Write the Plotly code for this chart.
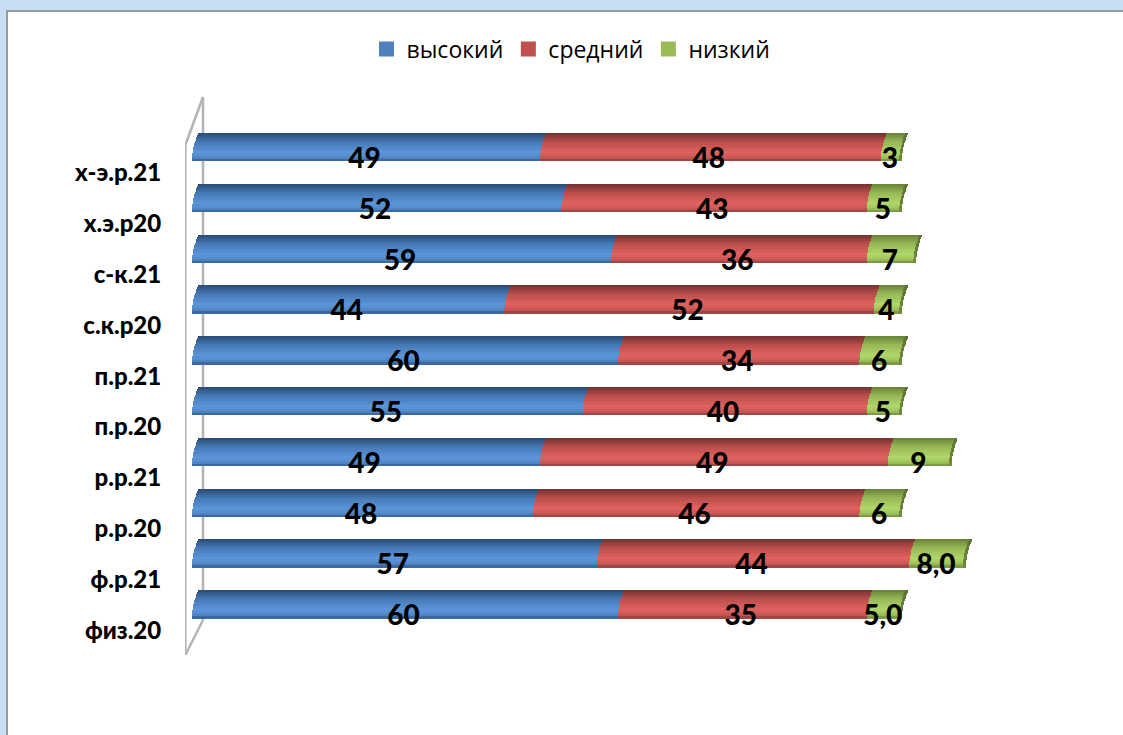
import plotly.graph_objects as go

categories = ["х-э.р.21", "х.э.р20", "с-к.21", "с.к.р20", "п.р.21", "п.р.20", "р.р.21", "р.р.20", "ф.р.21", "физ.20"]
high = [49, 52, 59, 44, 60, 55, 49, 48, 57, 60]
mid = [48, 43, 36, 52, 34, 40, 49, 46, 44, 35]
low = [3, 5, 7, 4, 6, 5, 9, 6, 8, 5]
low_labels = ["3", "5", "7", "4", "6", "5", "9", "6", "8,0", "5,0"]
series_names = ["высокий", "средний", "низкий"]

W, H = 1123, 735
PL, PR, PT, PB = 185, 975, 90, 660
PX_X = 7.1
PX_Y = 50.8
Y0 = 173
xr = [(PL - 192) / PX_X, (PR - 192) / PX_X]
yr = [(PB - Y0) / PX_Y, (PT - Y0) / PX_Y]

N_BANDS = 14
BAR_H = 28 / PX_Y
BAR_CENTER = -26 / PX_Y
LABEL_DY = -12 / PX_Y
LABEL_DX = -1.5 / PX_X
DEPTH = 0.8


def lerp(stops, t):
    for (a, ca), (b, cb) in zip(stops, stops[1:]):
        if t <= b:
            f = (t - a) / (b - a)
            return "rgb(%d,%d,%d)" % tuple(round(p + (q - p) * f) for p, q in zip(ca, cb))
    return "rgb(%d,%d,%d)" % stops[-1][1]


grad_blue = [(0, (44, 78, 122)), (0.3, (69, 120, 181)), (0.7, (91, 149, 217)), (0.9, (84, 138, 202)), (1, (62, 105, 160))]
grad_red = [(0, (122, 52, 50)), (0.3, (186, 78, 75)), (0.7, (224, 98, 95)), (0.9, (205, 88, 85)), (1, (160, 70, 68))]
grad_green = [(0, (108, 135, 58)), (0.3, (150, 183, 86)), (0.7, (176, 214, 106)), (0.9, (160, 196, 94)), (1, (125, 155, 70))]
grad_cap = [(0, (90, 115, 48)), (1, (112, 140, 60))]
grads = [grad_blue, grad_red, grad_green]
legend_colors = ["#4F81BD", "#C0504D", "#9BBB59"]

rows = list(range(len(categories)))
cum0 = [0] * len(rows)
cum1 = high
cum2 = [a + b for a, b in zip(high, mid)]
total = [a + b for a, b in zip(cum2, low)]

fig = go.Figure()


def slant(t):
    return DEPTH * (1 - t) ** 1.8


for values, starts, grad in zip([high, mid, low], [cum0, cum1, cum2], grads):
    for k in range(N_BANDS):
        t = k / (N_BANDS - 1)
        shift = slant(t)
        fig.add_trace(go.Bar(
            orientation="h", y=rows, x=values,
            base=[s + shift for s in starts],
            width=BAR_H / N_BANDS * 1.15,
            offset=BAR_CENTER - BAR_H / 2 + k * BAR_H / N_BANDS,
            marker=dict(color=lerp(grad, t), line=dict(width=0)),
            showlegend=False, hoverinfo="skip",
        ))

for k in range(N_BANDS):
    t = k / (N_BANDS - 1)
    shift = slant(t)
    fig.add_trace(go.Bar(
        orientation="h", y=rows, x=[0.4] * len(rows),
        base=[s + shift - 0.4 for s in total],
        width=BAR_H / N_BANDS * 1.15,
        offset=BAR_CENTER - BAR_H / 2 + k * BAR_H / N_BANDS,
        marker=dict(color=lerp(grad_cap, t), line=dict(width=0)),
        showlegend=False, hoverinfo="skip",
    ))

label_font = dict(family="Lato, Carlito, 'Open Sans', sans-serif", size=28, color="black", weight=900)
for values, starts, labels in zip([high, mid, low], [cum0, cum1, cum2], [[str(v) for v in high], [str(v) for v in mid], low_labels]):
    fig.add_trace(go.Scatter(
        x=[s + v / 2 + LABEL_DX for s, v in zip(starts, values)],
        y=[r + LABEL_DY for r in rows],
        mode="text", text=labels, textposition="middle center",
        textfont=label_font, showlegend=False, hoverinfo="skip",
    ))

for name, color in zip(series_names, legend_colors):
    fig.add_trace(go.Scatter(
        x=[None], y=[None], mode="markers", name=name,
        marker=dict(symbol="square", size=15, color=color),
    ))

wall = "#b4b4b4"
front_x = xr[0] + 0.05
back_x = (203 - 192) / PX_X


def py(p):
    return (p - Y0) / PX_Y


shapes = [
    dict(type="rect", xref="paper", yref="paper", x0=(7 - PL) / (PR - PL), x1=(W + 5 - PL) / (PR - PL),
         y0=(PB - (H + 5)) / (PB - PT), y1=(PB - 11) / (PB - PT),
         fillcolor="white", line=dict(color="#999999", width=2), layer="below"),
]
for (x0, y0, x1, y1) in [
    (front_x, 145, front_x, 655),
    (back_x, 97, back_x, 620),
    (front_x, 145, back_x, 97),
    (front_x, 655, back_x, 620),
]:
    shapes.append(dict(type="line", xref="x", yref="y", x0=x0, x1=x1, y0=py(y0), y1=py(y1),
                       line=dict(color=wall, width=2.5), layer="below"))

fig.update_layout(
    width=W, height=H,
    margin=dict(l=PL, r=W - PR, t=PT, b=H - PB),
    paper_bgcolor="#c8dff3", plot_bgcolor="rgba(0,0,0,0)",
    barmode="overlay", bargap=0,
    shapes=shapes,
    showlegend=True,
    legend=dict(orientation="h", x=(571 - PL) / (PR - PL), xanchor="center",
                y=(PB - 49) / (PB - PT), yanchor="middle",
                font=dict(family="'Open Sans', sans-serif", size=23, color="black"),
                bgcolor="rgba(0,0,0,0)", traceorder="normal", itemwidth=30),
    xaxis=dict(range=xr, visible=False),
    yaxis=dict(range=yr, tickmode="array", tickvals=rows, ticktext=categories,
               showgrid=False, zeroline=False, showline=False, ticks="outside", ticklen=18,
               tickcolor="rgba(0,0,0,0)",
               tickfont=dict(family="Lato, Carlito, 'Open Sans', sans-serif", size=24, color="black", weight=900)),
)

fig.write_html("out.html", config={"displayModeBar": False},
               post_script="document.body.style.margin='0';document.documentElement.style.overflow='hidden';")
